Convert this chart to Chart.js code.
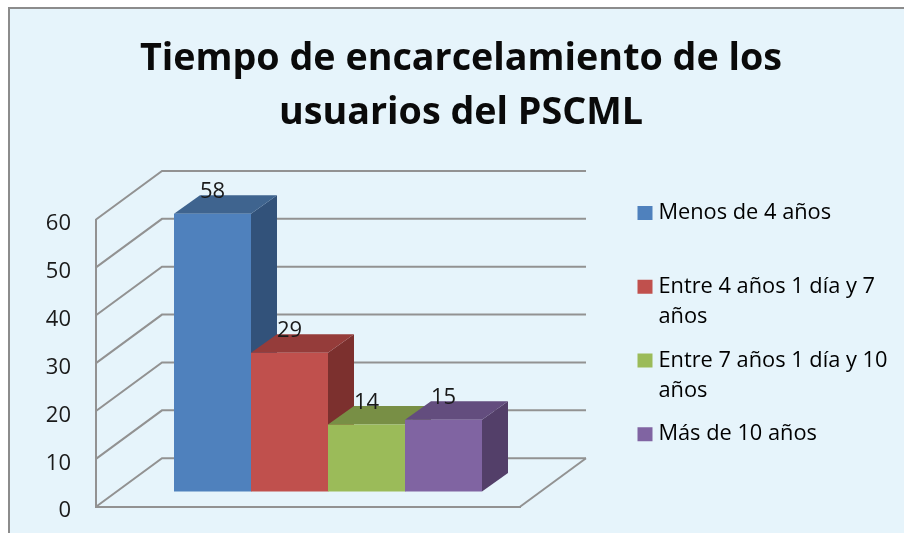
<!DOCTYPE html>
<html>
<head>
<meta charset="utf-8">
<style>html,body{margin:0;padding:0;background:#fff}canvas{display:block;filter:blur(0.4px)}</style>
<script src="https://cdn.jsdelivr.net/npm/chart.js@4"></script>
</head>
<body>
<canvas id="c" width="904" height="533"></canvas>
<script>
const categories = ['Tiempo de encarcelamiento'];
const seriesNames = ['Menos de 4 años', 'Entre 4 años 1 día y 7 años', 'Entre 7 años 1 día y 10 años', 'Más de 10 años'];
const legendLines = [['Menos de 4 años', ''], ['Entre 4 años 1 día y 7', 'años'], ['Entre 7 años 1 día y 10', 'años'], ['Más de 10 años', '']];
const seriesValues = [58, 29, 14, 15];
const frontColors = ['#4f81bd', '#c0504d', '#9bbb59', '#8064a2'];
const topColors = ['#3f648f', '#953c3a', '#788f45', '#634d7e'];
const sideColors = ['#32527a', '#7c302e', '#647a3a', '#533f69'];
const titleLines = ['Tiempo de encarcelamiento de los', 'usuarios del PSCML'];
const yMin = 0, yMax = 60, yStep = 10;

const FONT = '"Open Sans", sans-serif';
const GRID = '#929292';
const wallDX = 66, wallDY = -48.5;   // depth of the floor / side wall
const barDX = 20, barDY = -15.2;     // where bars stand on the floor
const depthDX = 26, depthDY = -18.5; // depth of each bar

const scene3d = {
  id: 'scene3d',
  afterLayout(chart) {
    const t = chart.titleBlock;
    t.left = 0; t.right = 922; t.top = 32; t.bottom = t.top + t.height;
    const l = chart.legend;
    l.left = 628.8; l.right = 904; l.top = 188.5; l.bottom = 533;
  },
  beforeDraw(chart) {
    const c = chart.ctx;
    c.save();
    c.fillStyle = '#ffffff'; c.fillRect(0, 0, chart.width, chart.height);
    c.fillStyle = '#e6f4fb'; c.fillRect(9, 8, chart.width, chart.height);
    c.strokeStyle = '#8c8c8c'; c.lineWidth = 2;
    c.beginPath(); c.moveTo(9, chart.height); c.lineTo(9, 8); c.lineTo(chart.width, 8); c.stroke();
    c.restore();
  },
  beforeDatasetsDraw(chart) {
    const c = chart.ctx, y = chart.scales.y, a = chart.chartArea;
    c.save();
    c.strokeStyle = GRID; c.lineWidth = 2;
    y.ticks.forEach(t => {
      const py = y.getPixelForValue(t.value);
      c.beginPath();
      c.moveTo(a.left, py);
      c.lineTo(a.left + wallDX, py + wallDY);
      c.lineTo(a.right + wallDX, py + wallDY);
      c.stroke();
    });
    c.beginPath();
    c.moveTo(a.right, a.bottom);
    c.lineTo(a.right + wallDX, a.bottom + wallDY);
    c.stroke();
    // side and top faces, left to right, from the library's bar elements
    seriesValues.forEach((v, i) => {
      const el = chart.getDatasetMeta(i).data[0];
      const l = el.x - el.width / 2 + barDX, r = el.x + el.width / 2 + barDX;
      const t = el.y + barDY, b = el.base + barDY;
      c.fillStyle = sideColors[i];
      c.beginPath();
      c.moveTo(r, t); c.lineTo(r + depthDX, t + depthDY);
      c.lineTo(r + depthDX, b + depthDY); c.lineTo(r, b);
      c.closePath(); c.fill();
      c.fillStyle = topColors[i];
      c.beginPath();
      c.moveTo(l, t); c.lineTo(l + depthDX, t + depthDY);
      c.lineTo(r + depthDX, t + depthDY); c.lineTo(r, t);
      c.closePath(); c.fill();
    });
    c.restore();
    c.save();
    c.translate(barDX, barDY);
  },
  afterDatasetsDraw(chart) {
    const c = chart.ctx;
    c.restore();
    c.save();
    c.fillStyle = '#1a1a1a';
    c.font = '22px ' + FONT;
    c.textAlign = 'center'; c.textBaseline = 'middle';
    seriesValues.forEach((v, i) => {
      const el = chart.getDatasetMeta(i).data[0];
      c.fillText(String(v), el.x + barDX, el.y + barDY - 22);
    });
    c.restore();
  }
};

new Chart(document.getElementById('c'), {
  type: 'bar',
  data: {
    labels: categories,
    datasets: seriesNames.map((name, i) => ({
      label: name,
      data: [seriesValues[i]],
      backgroundColor: frontColors[i],
      borderWidth: 0,
      clip: false,
      categoryPercentage: 0.7264,
      barPercentage: 1
    }))
  },
  options: {
    responsive: false,
    animation: false,
    layout: { padding: { left: 0, right: 384, top: 111.5, bottom: 26.3 } },
    plugins: {
      tooltip: { enabled: false },
      title: {
        display: true,
        text: titleLines,
        color: '#0a0a0a',
        font: { family: FONT, size: 37.7, weight: 'bold', lineHeight: 54 / 37.7 },
        padding: 0
      },
      legend: {
        position: 'chartArea',
        align: 'start',
        labels: {
          boxWidth: 5,
          boxHeight: 4,
          color: '#1a1a1a',
          padding: 13.7,
          font: { family: FONT, size: 21.8, lineHeight: 30 / 21.8 },
          generateLabels() {
            return legendLines.map((lines, i) => ({
              text: lines,
              fillStyle: frontColors[i],
              strokeStyle: frontColors[i],
              lineWidth: 10,
              hidden: false,
              datasetIndex: i
            }));
          }
        }
      }
    },
    scales: {
      x: {
        grid: { display: false, drawTicks: false },
        border: { display: true, color: GRID, width: 2 },
        ticks: { display: false }
      },
      y: {
        min: yMin, max: yMax,
        afterFit(s) { s.width = 96; s.paddingTop = 0; s.paddingBottom = 0; },
        grid: { display: false, drawTicks: false },
        border: { display: true, color: GRID, width: 2 },
        ticks: {
          stepSize: yStep,
          padding: 25,
          labelOffset: 4.5,
          color: '#1a1a1a',
          font: { family: FONT, size: 22 }
        }
      }
    }
  },
  plugins: [scene3d]
});
</script>
</body>
</html>
